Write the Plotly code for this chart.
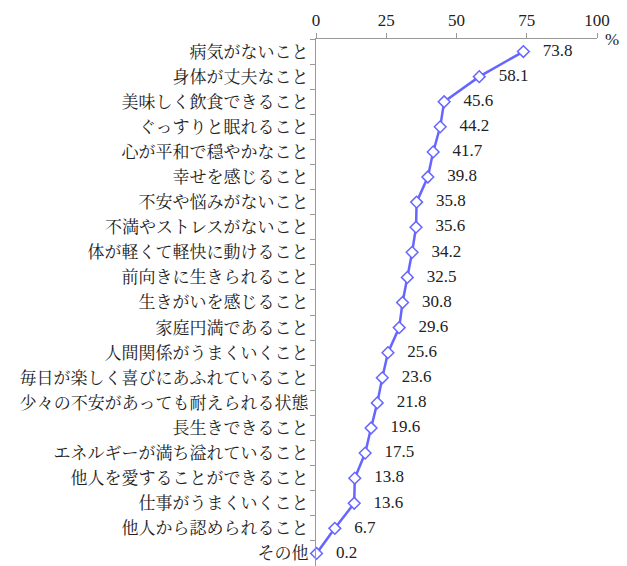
import plotly.graph_objects as go

categories = ["病気がないこと", "身体が丈夫なこと", "美味しく飲食できること", "ぐっすりと眠れること",
              "心が平和で穏やかなこと", "幸せを感じること", "不安や悩みがないこと", "不満やストレスがないこと",
              "体が軽くて軽快に動けること", "前向きに生きられること", "生きがいを感じること", "家庭円満であること",
              "人間関係がうまくいくこと", "毎日が楽しく喜びにあふれていること", "少々の不安があっても耐えられる状態",
              "長生きできること", "エネルギーが満ち溢れていること", "他人を愛することができること",
              "仕事がうまくいくこと", "他人から認められること", "その他"]
values = [73.8, 58.1, 45.6, 44.2, 41.7, 39.8, 35.8, 35.6, 34.2, 32.5, 30.8, 29.6, 25.6, 23.6, 21.8,
          19.6, 17.5, 13.8, 13.6, 6.7, 0.2]
x_ticks = [0, 25, 50, 75, 100]

FONT = "Liberation Serif, Noto Serif CJK JP, Noto Sans CJK JP, serif"

fig = go.Figure(go.Scatter(
    x=values, y=categories, mode="lines+markers+text",
    line=dict(color="#6666FF", width=2.5),
    marker=dict(symbol="diamond", size=9, color="white", line=dict(color="#6666FF", width=1.5)),
    text=[f"   {v:.1f}" for v in values], textposition="middle right",
    textfont=dict(family=FONT, size=17, color="#222"),
    cliponaxis=False,
))

fig.update_layout(
    width=627, height=566,
    margin=dict(l=316, r=30, t=39, b=0),
    paper_bgcolor="white", plot_bgcolor="white",
    showlegend=False,
    font=dict(family=FONT, size=16, color="#222"),
    xaxis=dict(side="top", range=[0, 100], tickvals=x_ticks, ticks="outside", ticklen=5,
               tickcolor="#999", showline=True, linecolor="#999", linewidth=1,
               showgrid=False, zeroline=False, tickfont=dict(size=17)),
    yaxis=dict(range=[20.5, -0.5], ticks="outside", ticklen=5, tickcolor="#999",
               tickson="boundaries", showline=True, linecolor="#999", linewidth=1,
               showgrid=False, zeroline=False, tickfont=dict(size=17), ticklabelstandoff=3),
    annotations=[dict(text="%", xref="paper", yref="paper", x=1.0, y=1.0, xanchor="left",
                      yanchor="middle", xshift=6, showarrow=False, font=dict(size=17))],
)

fig.write_html("out.html")
